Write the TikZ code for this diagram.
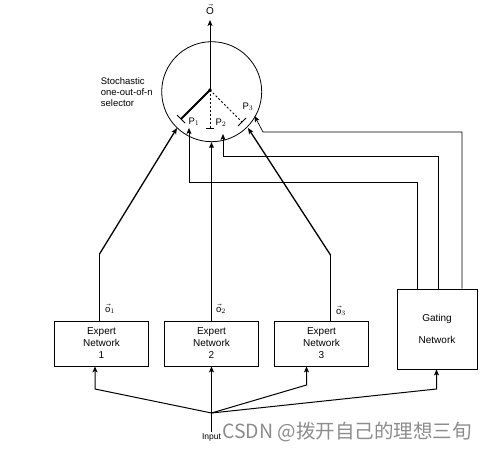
\documentclass[tikz,border=0pt]{standalone}
\usepackage{fontspec}
\setmainfont{Liberation Sans}
\newfontfamily\cjk{Noto Sans CJK SC}
\usetikzlibrary{positioning,calc,arrows.meta}

\begin{document}
\begin{tikzpicture}[x=1pt, y=-1pt, node distance=110pt, line width=0.8pt,
	>={Stealth[length=6pt,width=5pt,inset=1.5pt]},
	expert node/.style={rectangle,draw,minimum width=94pt,minimum height=45pt,
		align=center,font=\fontsize{10}{12}\selectfont},
	gate node/.style={rectangle,draw,minimum width=80pt,minimum height=80pt,
		align=center,font=\fontsize{10}{22}\selectfont},
	small label/.style={inner sep=0pt,font=\fontsize{9.5}{11}\selectfont},
	feed line/.style={line width=1pt},
	gate line/.style={line width=0.7pt},
	armtick/.style={line width=0.8pt}]
	
	\useasboundingbox (0,0) rectangle (487,450);
	
	\node[expert node] (e1) at (101.5,343.5) {Expert\\Network\\1};
	\node[expert node] (e2) [right of=e1] {Expert\\Network\\2};
	\node[expert node] (e3) [right of=e2] {Expert\\Network\\3};
	\node[gate node] (g) at (437,329) {Gating\\Network};
	
	\node[circle,draw,minimum size=100pt,inner sep=0pt] (sel) at (211.7,91.7) {};
	\node[small label,align=left,anchor=west] (sellbl) at (100.5,92) {Stochastic\\one-out-of-n\\selector};
	
	\coordinate (hub) at (210,90);
	\coordinate (out) at (210,20);
	\node[inner sep=0pt,anchor=south] (olbl) at (210,14.5) {$\vec{\mbox{O}}$};
	\draw[->] (hub) -- (out);
	
	\coordinate (p1) at (181,119);
	\coordinate (p2) at (210,128);
	\coordinate (p3) at (242,122);
	\draw[line width=1.8pt] (hub) -- (p1);
	\draw[dash pattern=on 2pt off 2pt] (hub) -- (p2);
	\draw[dash pattern=on 2pt off 2pt] (hub) -- (p3);
	\draw[armtick] (p1) ++(-4,-4) -- ++(8,8);
	\draw[armtick] (p2) ++(-4,0) -- ++(8,0);
	\draw[armtick] (p3) ++(-4,4) -- ++(8,-8);
	\fill (hub) circle (1.8pt);
	
	\node[small label] (lp1) at (194,122) {P$_1$};
	\node[small label] (lp2) at (221,123) {P$_2$};
	\node[small label] (lp3) at (248,107) {P$_3$};
	
	\coordinate (b1) at (99.5,254);
	\coordinate (t1) at (177,128);
	\coordinate (t2) at (211.5,141.5);
	\coordinate (b3) at (330.5,255);
	\coordinate (t3) at (248,128);
	\draw[feed line] (e1.north -| b1) -- (b1);
	\draw[line width=1.3pt,->] (b1) -- (t1);
	\draw[feed line,-{Latex[length=6pt,width=5pt]}] (e2.north) -- (t2);
	\draw[feed line] (e3.north -| b3) -- (b3);
	\draw[line width=1.3pt,->] (b3) -- (t3);
	
	\node[small label] (o1) at (110,309) {$\vec{\mbox{o}}_1$};
	\node[small label] (o2) at (221,309) {$\vec{\mbox{o}}_2$};
	\node[small label] (o3) at (341,311) {$\vec{\mbox{o}}_3$};
	
	\coordinate (q1) at (189,128);
	\coordinate (q2) at (223,134);
	\coordinate (q3) at (254.5,116);
	\draw[gate line,->] (g.north -| 417,0) |- (189,182) -- (q1);
	\draw[gate line,->] (g.north -| 438.5,0) |- (223,156) -- (q2);
	\draw[gate line,->] (g.north -| 462,0) |- (263,132) -- (q3);
	
	\node[inner sep=1pt,font=\fontsize{8.5}{10}\selectfont] (inlbl) at (211.5,437) {Input};
	\coordinate (in) at (211.5,413);
	\coordinate (k1) at (95,389);
	\coordinate (k3) at (306.5,385);
	\coordinate (k4) at (436.5,389);
	\draw[feed line,->] (inlbl) -- (e2.south);
	\draw[feed line,->] (in) -- (k1) -- (k1 |- e1.south);
	\draw[feed line,->] (in) -- (k3) -- (k3 |- e3.south);
	\draw[feed line,->] (in) -- (k4) -- (k4 |- g.south);
	
	\node[anchor=west,inner sep=0pt,text=black!45,font=\cjk\fontsize{19.5}{21}\selectfont] (mark) at (222,432) {CSDN @拨开自己的理想三旬};
\end{tikzpicture}
\end{document}
